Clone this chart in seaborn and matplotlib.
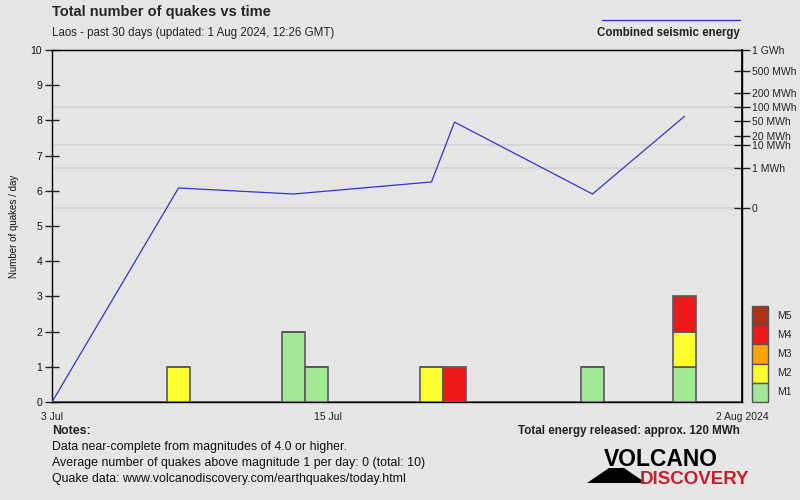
import numpy as np
import pandas as pd
import matplotlib
matplotlib.use("Agg")
import matplotlib.pyplot as plt
from matplotlib.patches import Rectangle, Polygon
from matplotlib.lines import Line2D
import seaborn as sns

# ---------------- data ----------------
start_date = "2024-07-03"
n_days = 30
quake_dates = ["2024-07-08", "2024-07-13", "2024-07-13", "2024-07-14", "2024-07-19",
               "2024-07-20", "2024-07-26", "2024-07-30", "2024-07-30", "2024-07-30"]
quake_classes = ["M2", "M1", "M1", "M1", "M2", "M4", "M1", "M1", "M2", "M4"]

mag_levels = ["M5", "M4", "M3", "M2", "M1"]
mag_colors = ["#b0301a", "#f01818", "#ffa500", "#ffff30", "#a3e896"]

energy_dates = ["2024-07-08", "2024-07-13", "2024-07-19", "2024-07-20", "2024-07-26", "2024-07-30"]
energy_mwh = [0.5, 0.35, 0.65, 48, 0.35, 67]

energy_tick_values = [0, 1, 10, 20, 50, 100, 200, 500, 1000]
energy_tick_labels = ["0", "1 MWh", "10 MWh", "20 MWh", "50 MWh", "100 MWh", "200 MWh", "500 MWh", "1 GWh"]
energy_tick_pos = [5.51, 6.65, 7.30, 7.56, 7.98, 8.38, 8.78, 9.40, 10.0]
energy_grid_values = [0, 1, 10, 100]

x_tick_days = [0, 12, 30]
x_tick_labels = ["3 Jul", "15 Jul", "2 Aug 2024"]

title = "Total number of quakes vs time"
subtitle = "Laos - past 30 days (updated: 1 Aug 2024, 12:26 GMT)"
notes = ["Data near-complete from magnitudes of 4.0 or higher.",
         "Average number of quakes above magnitude 1 per day: 0 (total: 10)",
         "Quake data: www.volcanodiscovery.com/earthquakes/today.html"]
total_energy = "Total energy released: approx. 120 MWh"

# ---------------- styling ----------------
sns.set_theme(style="white")
BG = "#e6e6e6"
plt.rcParams["font.family"] = ["Liberation Sans", "DejaVu Sans"]

W, H = 800, 500
fig = plt.figure(figsize=(8, 5), dpi=100, facecolor=BG)
L, R, T, B = 52, 742, 50, 402
ax = fig.add_axes([L / W, 1 - B / H, (R - L) / W, (B - T) / H])
ax.set_facecolor(BG)

start = pd.Timestamp(start_date)
df = pd.DataFrame({
    "day": [(pd.Timestamp(d) - start).days for d in quake_dates],
    "mag": quake_classes,
})

sns.histplot(data=df, x="day", hue="mag", hue_order=mag_levels,
             palette=dict(zip(mag_levels, mag_colors)), multiple="stack",
             bins=np.arange(0, n_days + 1), edgecolor="#5a5a5a", linewidth=1.2,
             alpha=1, legend=False, ax=ax, zorder=3)

# energy mapping onto count axis
def energy_to_pos(e):
    return float(np.interp(e, energy_tick_values, energy_tick_pos))

for ev in energy_grid_values:
    ax.axhline(energy_to_pos(ev), color="#d3d3d3", lw=1.2, zorder=1)

line_x = [0] + [(pd.Timestamp(d) - start).days + 0.5 for d in energy_dates]
line_y = [0] + [energy_to_pos(e) for e in energy_mwh]
sns.lineplot(x=line_x, y=line_y, ax=ax, color="#3434d2", lw=0.9, sort=False,
             estimator=None, zorder=5)

ax.set_xlim(0, n_days)
ax.set_ylim(0, 10)
ax.set_xticks(x_tick_days)
ax.set_xticklabels(x_tick_labels, fontsize=7.5, color="#222222")
ax.set_xticks(np.arange(0, n_days + 1), minor=True)
ax.set_yticks(np.arange(0, 11))
ax.set_yticklabels([str(i) for i in range(11)], fontsize=7.5)
ax.tick_params(axis="x", which="both", direction="inout", length=10, width=1,
               color="black", pad=2)
ax.tick_params(axis="y", which="both", direction="inout", length=10, width=1,
               color="#222222", pad=2, labelcolor="#111111")
ax.set_xlabel("")
ax.set_ylabel("")
for s in ax.spines.values():
    s.set_visible(True)
    s.set_color("black")
    s.set_linewidth(1)

ax2 = ax.twinx()
ax2.set_ylim(0, 10)
ax2.set_yticks(energy_tick_pos)
ax2.set_yticklabels(energy_tick_labels, fontsize=7.5)
ax2.tick_params(axis="y", direction="inout", length=12, width=1, color="#222222", pad=1)
for s in ax2.spines.values():
    s.set_visible(False)
ax2.spines["right"].set_visible(True)
ax2.spines["right"].set_color("black")

def fx(x):
    return x / W

def fy(y):
    return 1 - y / H

fig.text(fx(14), fy(226), "Number of quakes / day", fontsize=7, rotation=90,
         va="center", ha="center", color="#111111")

# titles
fig.text(fx(52), fy(12), title, fontsize=10.5, fontweight="bold", va="center", ha="left")
fig.text(fx(52), fy(33), subtitle, fontsize=8.3, va="center", ha="left")

# energy legend
fig.add_artist(Line2D([fx(602), fx(740)], [fy(20), fy(20)], color="#3434d2", lw=1))
fig.text(fx(740), fy(33), "Combined seismic energy", fontsize=8.3, fontweight="bold",
         ha="right", va="center", color="#222222")

# magnitude legend
box_top, box_h = 306, 19.2
for i, (lvl, col) in enumerate(zip(mag_levels, mag_colors)):
    y0 = box_top + i * box_h
    fig.add_artist(Rectangle((fx(752), fy(y0 + box_h)), 16 / W, box_h / H,
                             facecolor=col, edgecolor="#555555", lw=1))
    fig.text(fx(777), fy(y0 + box_h / 2), lvl, fontsize=7.5, va="center", ha="left")

# notes
fig.text(fx(52), fy(431), "Notes:", fontsize=8.9, fontweight="bold",
         va="center", ha="left", color="#222222")
for i, n in enumerate(notes):
    fig.text(fx(52), fy(447 + 16 * i), n, fontsize=8.9,
             va="center", ha="left", color="#111111")
fig.text(fx(740), fy(431), total_energy, fontsize=8.4, fontweight="bold",
         va="center", ha="right", color="#222222")

# logo
fig.add_artist(Polygon([(fx(587), fy(483)), (fx(609), fy(468)), (fx(624), fy(468)),
                        (fx(646), fy(483))], closed=True, facecolor="black", edgecolor="none"))
fig.text(fx(604), fy(459), "VOLCANO", fontsize=16.5, fontweight="bold",
         va="center", ha="left", color="black")
fig.text(fx(640), fy(479), "DISCOVERY", fontsize=13.5, fontweight="bold",
         va="center", ha="left", color="#c8202a")

fig.savefig("out.png", dpi=100, facecolor=BG)
